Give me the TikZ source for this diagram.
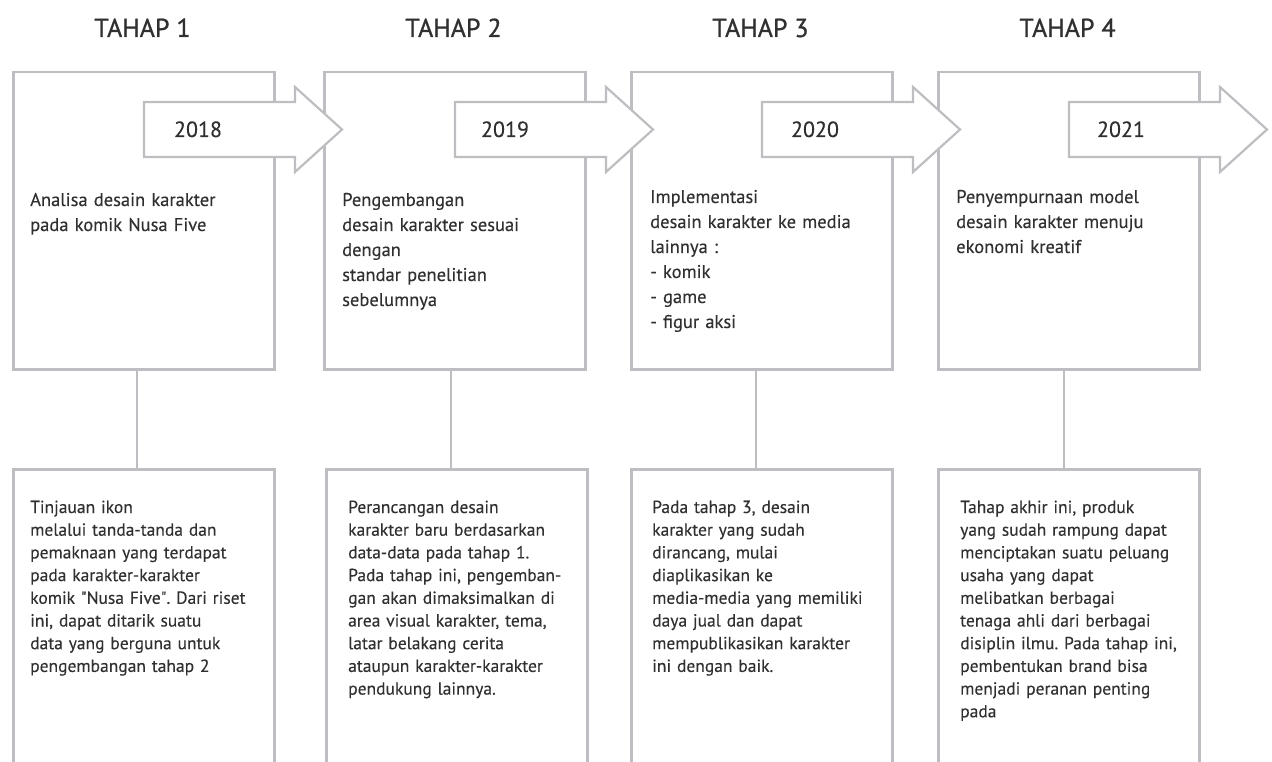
\documentclass[tikz,border=0pt]{standalone}
\usepackage{fontspec}
\setmainfont{PT Sans}[FakeBold=0.25]
\newfontfamily\headfont{PT Sans}[FakeBold=0.9]
\frenchspacing

\definecolor{boxgray}{RGB}{190,190,194}
\definecolor{inkgray}{RGB}{48,48,48}

\tikzset{
  stagebox/.style={draw=boxgray, line width=2.5pt, anchor=north west, inner sep=0pt, minimum width=261pt},
  yeararrow/.style={draw=boxgray, line width=2.2pt, fill=white, line join=miter},
  link/.style={draw=boxgray, line width=2.5pt},
  stagehead/.style={text=inkgray, font=\headfont\fontsize{26}{30}\selectfont, anchor=base, inner sep=0pt},
  yeartext/.style={text=inkgray, font=\fontsize{22}{26}\selectfont, anchor=base, inner sep=0pt},
  goaltext/.style={text=inkgray, font=\fontsize{18.5}{25}\selectfont, anchor=base west, align=left, inner sep=0pt, text width=245pt},
  notetext/.style={text=inkgray, font=\fontsize{17.5}{22.7}\selectfont, anchor=base west, align=left, inner sep=0pt, text width=245pt}
}

\begin{document}
\begin{tikzpicture}[x=1pt, y=-1pt]

\clip (0,0) rectangle (1272,762);

% headers
\node[stagehead] (head1) at (142.5,37) {TAHAP 1};
\node[stagehead] (head2) at (453.5,37) {TAHAP 2};
\node[stagehead] (head3) at (760.5,37) {TAHAP 3};
\node[stagehead] (head4) at (1067.5,37) {TAHAP 4};

% upper boxes
\node[stagebox, minimum height=297pt] (top1) at (12,71) {};
\node[stagebox, minimum height=297pt] (top2) at (323,71) {};
\node[stagebox, minimum height=297pt] (top3) at (630,71) {};
\node[stagebox, minimum height=297pt] (top4) at (937,71) {};

% lower boxes, open at the bottom
\node[stagebox, minimum height=330pt] (bot1) at (12,468) {};
\node[stagebox, minimum height=330pt] (bot2) at (325,468) {};
\node[stagebox, minimum height=330pt] (bot3) at (630,468) {};
\node[stagebox, minimum height=330pt] (bot4) at (937,468) {};

% links
\draw[link] ([xshift=-7pt]top1.south) -- ([xshift=-7pt]top1.south |- bot1.north);
\draw[link] ([xshift=-4pt]top2.south) -- ([xshift=-4pt]top2.south |- bot2.north);
\draw[link] ([xshift=-6pt]top3.south) -- ([xshift=-6pt]top3.south |- bot3.north);
\draw[link] ([xshift=-5pt]top4.south) -- ([xshift=-5pt]top4.south |- bot4.north);

% year arrows
\draw[yeararrow, shift={(144,129.5)}] (0,-27.5) -- (151,-27.5) -- (151,-42.5) -- (198,0) -- (151,42.5) -- (151,27.5) -- (0,27.5) -- cycle;
\draw[yeararrow, shift={(455,129.5)}] (0,-27.5) -- (151,-27.5) -- (151,-42.5) -- (198,0) -- (151,42.5) -- (151,27.5) -- (0,27.5) -- cycle;
\draw[yeararrow, shift={(762,129.5)}] (0,-27.5) -- (151,-27.5) -- (151,-42.5) -- (198,0) -- (151,42.5) -- (151,27.5) -- (0,27.5) -- cycle;
\draw[yeararrow, shift={(1069,129.5)}] (0,-27.5) -- (151,-27.5) -- (151,-42.5) -- (198,0) -- (151,42.5) -- (151,27.5) -- (0,27.5) -- cycle;

\node[yeartext] (year1) at (198,137) {2018};
\node[yeartext] (year2) at (505,137) {2019};
\node[yeartext] (year3) at (815,137) {2020};
\node[yeartext] (year4) at (1121,137) {2021};

% stage goals
\node[goaltext] (goal1) at (30,206) {Analisa desain karakter\\pada komik Nusa Five};
\node[goaltext] (goal2) at (342,206) {Pengembangan\\desain karakter sesuai\\dengan\\standar penelitian\\sebelumnya};
\node[goaltext] (goal3) at (650,203) {Implementasi\\desain karakter ke media\\lainnya :\\- komik\\- game\\- figur aksi};
\node[goaltext] (goal4) at (956,203) {Penyempurnaan model\\desain karakter menuju\\ekonomi kreatif};

% stage notes
\node[notetext] (note1) at (30,513) {Tinjauan ikon\\melalui tanda-tanda dan\\pemaknaan yang terdapat\\pada karakter-karakter\\komik \textquotedbl Nusa Five\textquotedbl. Dari riset\\ini, dapat ditarik suatu\\data yang berguna untuk\\pengembangan tahap 2};
\node[notetext] (note2) at (348,513) {Perancangan desain\\karakter baru berdasarkan\\data-data pada tahap 1.\\Pada tahap ini, pengemban-\\gan akan dimaksimalkan di\\area visual karakter, tema,\\latar belakang cerita\\ataupun karakter-karakter\\pendukung lainnya.};
\node[notetext] (note3) at (652,513) {Pada tahap 3, desain\\karakter yang sudah\\dirancang, mulai\\diaplikasikan ke\\media-media yang memiliki\\daya jual dan dapat\\mempublikasikan karakter\\ini dengan baik.};
\node[notetext] (note4) at (960,513) {Tahap akhir ini, produk\\yang sudah rampung dapat\\menciptakan suatu peluang\\usaha yang dapat\\melibatkan berbagai\\tenaga ahli dari berbagai\\disiplin ilmu. Pada tahap ini,\\pembentukan brand bisa\\menjadi peranan penting\\pada};

\end{tikzpicture}
\end{document}
